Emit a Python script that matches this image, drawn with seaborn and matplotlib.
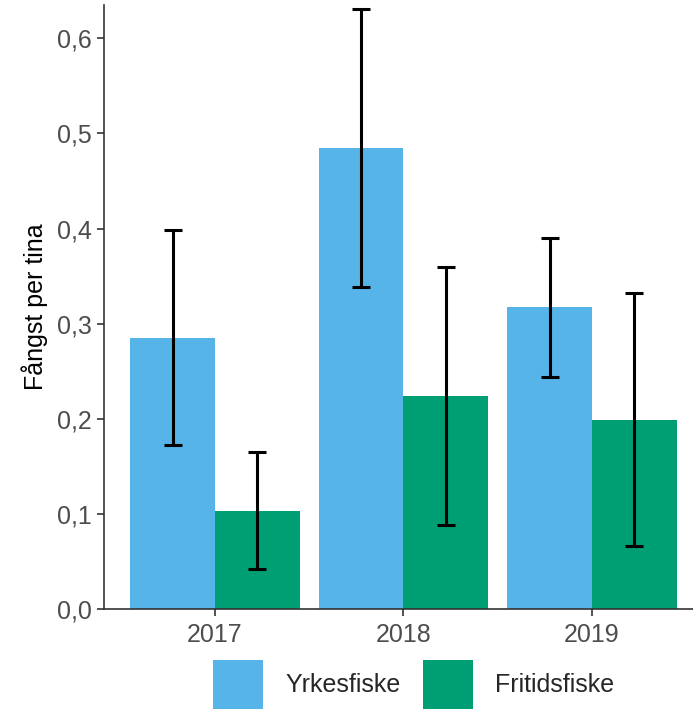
import matplotlib
matplotlib.use("Agg")
import matplotlib.pyplot as plt
from matplotlib.ticker import FuncFormatter, MultipleLocator
import seaborn as sns
import pandas as pd
import numpy as np

# DATA
years = ["2017", "2018", "2019"]
groups = ["Yrkesfiske", "Fritidsfiske"]

yrkes_mean = [0.285, 0.485, 0.317]
yrkes_low = [0.172, 0.339, 0.244]
yrkes_high = [0.398, 0.631, 0.390]

fritid_mean = [0.103, 0.224, 0.199]
fritid_low = [0.042, 0.088, 0.066]
fritid_high = [0.165, 0.360, 0.332]

colors = {"Yrkesfiske": "#56B4E9", "Fritidsfiske": "#009E73"}

df = pd.DataFrame({
    "year": years * 2,
    "group": [groups[0]] * 3 + [groups[1]] * 3,
    "mean": yrkes_mean + fritid_mean,
    "low": yrkes_low + fritid_low,
    "high": yrkes_high + fritid_high,
})

sns.set_style("white")
plt.rcParams["font.family"] = ["Liberation Sans", "DejaVu Sans"]

fig = plt.figure(figsize=(6.93, 7.09), dpi=100)
ax = fig.add_axes([104 / 693, 100 / 709, 1 - 104 / 693, 604 / 709])

sns.barplot(data=df, x="year", y="mean", hue="group", hue_order=groups,
            palette=colors, width=0.9, gap=0, saturation=1, errorbar=None,
            linewidth=0, ax=ax, legend=True)

# error bars at the bar centres that seaborn drew
for cont, g in zip(ax.containers, groups):
    sub = df[df["group"] == g].set_index("year").loc[years]
    xs = [b.get_x() + b.get_width() / 2 for b in cont]
    ax.errorbar(xs, sub["mean"],
                yerr=[sub["mean"] - sub["low"], sub["high"] - sub["mean"]],
                fmt="none", ecolor="black", elinewidth=2.2, capsize=6.8,
                capthick=2.2, zorder=5)

handles = ax.legend_.legend_handles
ax.legend_.remove()

ax.set_xlim(-0.589, 2.536)
ax.set_ylim(0, 0.635)
ax.yaxis.set_major_locator(MultipleLocator(0.1))
ax.yaxis.set_major_formatter(FuncFormatter(lambda v, p: f"{v:.1f}".replace(".", ",")))

ax.set_xlabel("")
ax.set_ylabel("Fångst per tina", fontsize=18, color="black", labelpad=7)
ax.tick_params(axis="both", labelsize=18, labelcolor="#4D4D4D", color="#333333",
               length=5, width=1.2, left=True, bottom=True)
ax.tick_params(axis="x", pad=5)

sns.despine(ax=ax)
for s in ["left", "bottom"]:
    ax.spines[s].set_color("#333333")
    ax.spines[s].set_linewidth(1.2)

fig.legend(handles, groups, loc="upper center", bbox_to_anchor=(0.597, 49 / 709),
           ncol=2, frameon=False, fontsize=18, handlelength=2.0, handleheight=2.7,
           handletextpad=0.88, columnspacing=0.92, borderpad=0, borderaxespad=0)

fig.savefig("out.png", dpi=100)
